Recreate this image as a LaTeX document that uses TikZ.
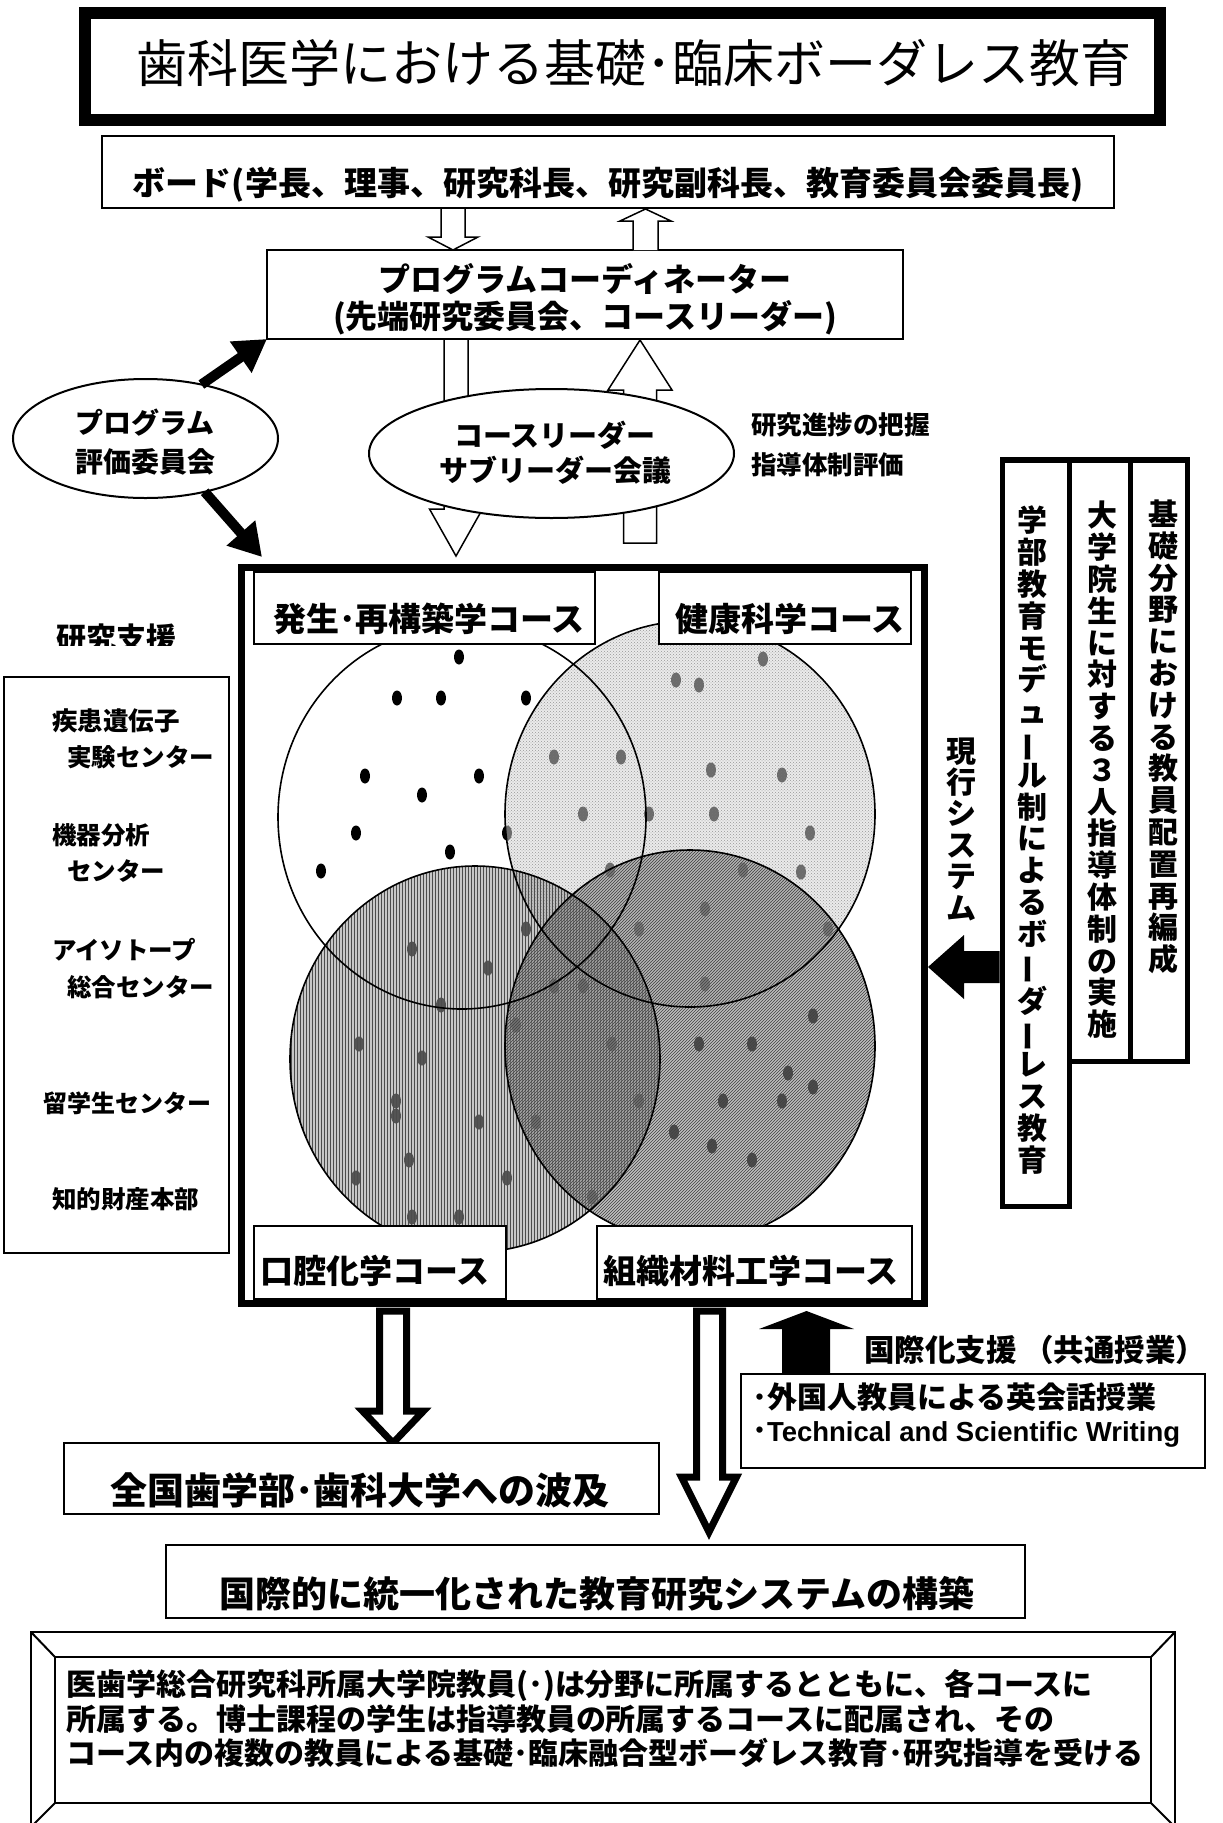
\documentclass[tikz,border=0pt]{standalone}
\usepackage{fontspec}
\usepackage{graphicx}
\setmainfont{Noto Sans CJK JP}
\newfontfamily\enfont{Liberation Sans}
\usetikzlibrary{shapes.geometric,patterns,arrows.meta}
\newcommand{\fsz}[2]{\fontsize{#1}{#2}\selectfont}
\newcommand{\vbar}{\rotatebox[origin=c]{90}{ー}}
\begin{document}
\begin{tikzpicture}[x=1pt,y=-1pt,
  every node/.style={inner sep=0pt, outer sep=0pt},
  box/.style={draw, line width=1.6pt, fill=white},
  vbox/.style={draw, line width=5.5pt},
  hol/.style={draw, line width=1.5pt, fill=white},
  fat/.style={draw, line width=7pt, fill=white, miter limit=10},
  bigarrow/.style={line width=10pt, -{Triangle[length=32pt,width=36pt]}},
  circ/.style={line width=1.6pt},
  lbl/.style={font=\bfseries\fsz{33}{36}},
  side/.style={anchor=west, font=\bfseries\fsz{24.5}{28}},
  vtxt/.style={align=center, font=\bfseries\fsz{30}{31.8}},
]
\useasboundingbox (0,0) rectangle (1223,1823);
\fill[white] (0,0) rectangle (1223,1823);

% ---------- title ----------
\node[draw, line width=12pt, minimum width=1075pt, minimum height=107pt] (title) at (622.5,66.5) {};
\node[font=\fsz{51}{56}] (titletext) at (634,63) {歯科医学における基礎･臨床ボーダレス教育};

% ---------- board ----------
\node[box, minimum width=1012pt, minimum height=72pt] (board) at (608,172) {};
\node[font=\bfseries\fsz{33}{36}] (boardtext) at (608,185) {ボード(学長、理事、研究科長、研究副科長、教育委員会委員長)};

% ---------- coordinator ----------
\node[box, minimum width=636pt, minimum height=89pt] (coord) at (585,294.5) {};
\node[font=\bfseries\fsz{32}{37}, align=center] (coordtext) at (585,299) {プログラムコーディネーター\\(先端研究委員会、コースリーダー)};

% hollow arrows board <-> coordinator
\draw[hol] (441,209) -- (441,237) -- (428,237) -- (453,250) -- (478,237) -- (465,237) -- (465,209);
\draw[hol] (633,250) -- (633,221) -- (620,221) -- (645.5,209) -- (671,221) -- (658,221) -- (658,250);

% hollow arrows coordinator <-> meeting
\draw[hol] (444,340) -- (444,509) -- (429.5,509) -- (456,556) -- (482.5,509) -- (468,509) -- (468,340);
\draw[hol] (623.5,543) -- (623.5,390) -- (608,390) -- (640,340) -- (672,390) -- (656.5,390) -- (656.5,543) -- cycle;

% ---------- ellipses ----------
\node[ellipse, draw, line width=2pt, fill=white, minimum width=365pt, minimum height=129pt] (mtg) at (551.5,453.5) {};
\node[font=\bfseries\fsz{29}{35}, align=center] (mtgtext) at (555,452.5) {コースリーダー\\サブリーダー会議};

\node[ellipse, draw, line width=2pt, fill=white, minimum width=265pt, minimum height=119pt] (eval) at (145.5,438.5) {};
\node[font=\bfseries\fsz{28}{39}, align=center] (evaltext) at (145,442.5) {プログラム\\評価委員会};

\node[anchor=west, font=\bfseries\fsz{25.5}{40}, align=left] (progress) at (751,445) {研究進捗の把握\\指導体制評価};

% black arrows from evaluation committee
\coordinate (evtip) at (262,557);
\draw[bigarrow] (eval.44) -- (coord.south west);
\draw[bigarrow] (eval.-42) -- (evtip);

% ---------- Venn circles ----------
\foreach \p in {(459,657),(397,698),(441,698),(526,698),(365,776),(479,776),(422,795),(356,833),(450,852),(321,871),(507,833),
  (763,659),(676,680),(699,685),(554,757),(621,757),(711,770),(782,775),(583,814),(649,814),(714,814),(810,833),(610,870),(743,870),(801,872),(705,909),(639,929),(828,929),(526,929),(705,984),
  (412,949),(488,968),(441,1005),(554,986),(583,986),(359,1044),(422,1058),(396,1101),(396,1116),(479,1122),(409,1160),(356,1178),(507,1178),(412,1217),(459,1217),(516,1025),(536,1122),(592,1197),(612,1044),(639,1101),
  (813,1016),(699,1044),(752,1044),(788,1073),(813,1087),(723,1101),(782,1101),(674,1132),(712,1146),(752,1160)}
  \fill[black] \p ellipse[x radius=5pt, y radius=7.5pt];

\fill[fill=black!15, fill opacity=0.5] (690,814) ellipse[x radius=185pt, y radius=193pt];
\fill[pattern=crosshatch dots, pattern color=black!55, fill opacity=0.7] (690,814) ellipse[x radius=185pt, y radius=193pt];
\fill[fill=black!40, fill opacity=0.55] (475,1059) ellipse[x radius=185pt, y radius=193pt];
\fill[pattern=vertical lines, pattern color=black!70, fill opacity=0.35] (475,1059) ellipse[x radius=185pt, y radius=193pt];
\fill[fill=black!45, fill opacity=0.55] (690,1046) ellipse[x radius=185pt, y radius=196pt];
\fill[pattern=north east lines, pattern color=black!75, fill opacity=0.35] (690,1046) ellipse[x radius=185pt, y radius=196pt];

\draw[circ] (462,817) ellipse[x radius=184pt, y radius=192pt];
\draw[circ] (690,814) ellipse[x radius=185pt, y radius=193pt];
\draw[circ] (475,1059) ellipse[x radius=185pt, y radius=193pt];
\draw[circ] (690,1046) ellipse[x radius=185pt, y radius=196pt];

% course labels
\node[box, minimum width=341.4pt, minimum height=72.4pt] (c1) at (424.5,608) {};
\node[lbl] (c1t) at (429,619) {発生･再構築学コース};
\node[box, minimum width=252.4pt, minimum height=72.4pt] (c2) at (785,608) {};
\node[lbl] (c2t) at (790,619) {健康科学コース};
\node[box, minimum width=252.4pt, minimum height=73.4pt] (c3) at (380,1262.5) {};
\node[lbl] (c3t) at (375,1271) {口腔化学コース};
\node[box, minimum width=315.4pt, minimum height=73.4pt] (c4) at (754.5,1262.5) {};
\node[lbl] (c4t) at (751,1271) {組織材料工学コース};

% big frame
\node[draw, line width=7pt, minimum width=683pt, minimum height=736pt] (bigbox) at (583,935.5) {};

% ---------- left support box ----------
\begin{scope}
\clip (0,600) rectangle (300,645);
\node[font=\bfseries\fsz{30}{30}] (kenkyu) at (116,638) {研究支援};
\end{scope}
\node[box, minimum width=225pt, minimum height=576pt] (support) at (116.5,965) {};
\node[side, font=\bfseries\fsz{25.5}{28}] (s1) at (52,721) {疾患遺伝子};
\node[side] (s2) at (67,757) {実験センター};
\node[side] (s3) at (52,835) {機器分析};
\node[side] (s4) at (67,871) {センター};
\node[side] (s5) at (52,950) {アイソトープ};
\node[side] (s6) at (67,987) {総合センター};
\node[side, font=\bfseries\fsz{24}{28}] (s7) at (43,1103) {留学生センター};
\node[side] (s8) at (52,1199) {知的財産本部};

% ---------- right vertical boxes ----------
\node[vbox, minimum width=67.4pt, minimum height=746.5pt] (rb1) at (1036,833) {};
\node[vbox, minimum width=61pt, minimum height=601.5pt] (rb2) at (1100.2,760.5) {};
\node[vbox, minimum width=56.6pt, minimum height=601.5pt] (rb3) at (1159,760.5) {};
\node[vtxt] (rb1t) at (1032,840) {学\\部\\教\\育\\モ\\デ\\ュ\\\vbar\\ル\\制\\に\\よ\\る\\ボ\\\vbar\\ダ\\\vbar\\レ\\ス\\教\\育};
\node[vtxt] (rb2t) at (1102,770) {大\\学\\院\\生\\に\\対\\す\\る\\３\\人\\指\\導\\体\\制\\の\\実\\施};
\node[vtxt] (rb3t) at (1163,737) {基\\礎\\分\\野\\に\\お\\け\\る\\教\\員\\配\\置\\再\\編\\成};
\node[align=center, font=\bfseries\fsz{30}{31.4}] (genko) at (961,829) {現\\行\\シ\\ス\\テ\\ム};
\fill[black] (999.5,951) -- (964,951) -- (964,935) -- (928,967) -- (964,999) -- (964,983) -- (999.5,983) -- cycle;

% ---------- bottom part ----------
\draw[fat] (379.5,1311) -- (379.5,1411) -- (362.5,1411) -- (393,1443) -- (423.5,1411) -- (406.5,1411) -- (406.5,1311) -- cycle;
\draw[fat] (696.5,1311) -- (696.5,1477) -- (681.5,1477) -- (709,1532) -- (736.5,1477) -- (722.5,1477) -- (722.5,1311) -- cycle;
\fill[black] (782,1373) -- (782,1329) -- (759,1329) -- (806.5,1311) -- (854,1329) -- (830,1329) -- (830,1373) -- cycle;
\node[anchor=west, font=\bfseries\fsz{30.5}{33}] (intl) at (864,1350) {国際化支援 （共通授業）};

\node[box, minimum width=464pt, minimum height=94pt] (engbox) at (973,1421) {};
\node[anchor=west, font=\bfseries\fsz{30}{33}, align=left] (engtext) at (752,1415.5) {･外国人教員による英会話授業\\･{\enfont\fontsize{27.5}{33}\selectfont Technical and Scientific Writing}};

\node[box, minimum width=595pt, minimum height=71pt] (zenkoku) at (361.5,1478.5) {};
\node[font=\bfseries\fsz{37}{40}] (zenkokut) at (360,1490) {全国歯学部･歯科大学への波及};
\node[box, minimum width=859pt, minimum height=73pt] (kokusai) at (595.5,1581.5) {};
\node[font=\bfseries\fsz{36}{40}] (kokusait) at (597,1594) {国際的に統一化された教育研究システムの構築};

% bevelled frame
\draw[line width=2.5pt] (31,1632) rectangle (1175,1840);
\draw[line width=2.5pt] (55,1657) rectangle (1151,1803);
\draw[line width=2pt] (31,1632) -- (55,1657) (1175,1632) -- (1151,1657) (55,1803) -- (28,1830) (1151,1803) -- (1178,1830);
\node[anchor=west, align=left, font=\bfseries\fsz{30}{34.5}] (summary) at (66,1719) {医歯学総合研究科所属大学院教員(･)は分野に所属するとともに、各コースに\\所属する。博士課程の学生は指導教員の所属するコースに配属され、その\\コース内の複数の教員による基礎･臨床融合型ボーダレス教育･研究指導を受ける};
\end{tikzpicture}
\end{document}
